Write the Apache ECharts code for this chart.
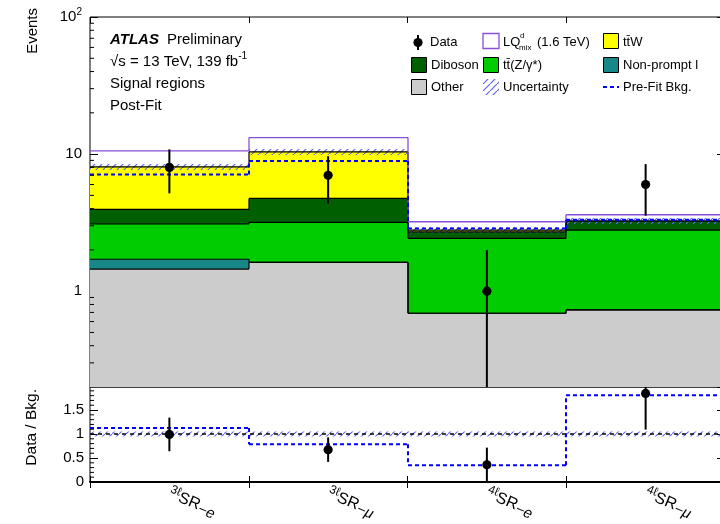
<!DOCTYPE html>
<html><head><meta charset="utf-8">
<script src="https://cdn.jsdelivr.net/npm/echarts@6/dist/echarts.min.js"></script>
<style>html,body{margin:0;padding:0;background:#fff}#c{width:720px;height:524px}</style>
</head><body><div id="c"></div>
<script>
// ---------------- data ----------------
const categories = ['3ℓSR−e', '3ℓSR−μ', '4ℓSR−e', '4ℓSR−μ'];
const labelSup = ['3ℓ', '3ℓ', '4ℓ', '4ℓ'];
const labelSub = ['−e', '−μ', '−e', '−μ'];
const other     = [1.45, 1.62, 0.69, 0.73];
const nonPrompt = [0.26, 0.00, 0.00, 0.00];
const ttZ       = [1.38, 1.56, 1.74, 2.06];
const diboson   = [0.86, 1.57, 0.28, 0.46];
const ttW       = [4.12, 5.63, 0.08, 0.00];
const lqSignal  = [2.48, 2.82, 0.42, 0.36];
const preFit    = [7.10, 8.92, 2.87, 3.32];
const dataCounts = [8, 7, 1, 6];
const bkgRelUnc = [0.05, 0.05, 0.05, 0.05];
const logTickLabels = {1: '1', 10: '10', 100: '10{sup|2}'};
const ratioTicks = [0, 0.5, 1, 1.5];

// ---------------- setup ----------------
const FONT = '"Liberation Sans", Arial, Helvetica, sans-serif';
const yMin = 0.2, yMax = 100, rMin = 0, rMax = 1.98;
const comps = [
  {vals: other, color: '#cccccc'},
  {vals: nonPrompt, color: '#178787'},
  {vals: ttZ, color: '#00cc00'},
  {vals: diboson, color: '#005f00'},
  {vals: ttW, color: '#ffff00'}
];
const nB = categories.length;
let cum = new Array(nB).fill(0);
const compRows = comps.map((c) => {
  const lo = cum.slice();
  cum = cum.map((v, i) => v + c.vals[i]);
  const hi = cum.slice();
  return hi.map((h, i) => [i, Math.max(lo[i], yMin), h, i > 0 ? hi[i - 1] : h]);
});
const totBkg = cum.slice();
const lqTop = totBkg.map((v, i) => v + lqSignal[i]);

// hatch pattern
const pc = document.createElement('canvas');
pc.width = 7; pc.height = 7;
const pctx = pc.getContext('2d');
pctx.strokeStyle = '#6464f0'; pctx.lineWidth = 1.2;
pctx.beginPath(); pctx.moveTo(-1, 8); pctx.lineTo(8, -1); pctx.stroke();
const hatch = {image: pc, repeat: 'repeat'};

function stepSeries(rows, xi, yi, o) {
  return {
    type: 'custom', xAxisIndex: xi, yAxisIndex: yi, clip: true,
    encode: {x: 0, y: 1}, data: rows, animation: false, silent: true,
    renderItem(params, api) {
      const i = api.value(0), lo = api.value(1), hi = api.value(2), prev = api.value(3);
      const bw = api.size([1, 0])[0];
      const pH = api.coord([i, hi]), pL = api.coord([i, lo]);
      const x0 = Math.round(pH[0] - bw / 2), x1 = Math.round(pH[0] + bw / 2);
      const ch = [];
      if (o.fill) ch.push({type: 'rect', z2: o.fz || 0,
        shape: {x: x0, y: pH[1], width: x1 - x0, height: pL[1] - pH[1]}, style: {fill: o.fill}});
      if (o.stroke) {
        const st = {stroke: o.stroke, lineWidth: o.lw || 1, lineDash: o.dash || null};
        ch.push({type: 'line', z2: o.z2 || 10, shape: {x1: x0, y1: pH[1], x2: x1, y2: pH[1]}, style: st});
        if (i > 0) {
          const pp = api.coord([i, prev]);
          ch.push({type: 'line', z2: o.z2 || 10, shape: {x1: x0, y1: pp[1], x2: x0, y2: pH[1]}, style: st});
        }
      }
      return {type: 'group', children: ch};
    }
  };
}

function pointSeries(rows, xi, yi, lim) {
  return {
    type: 'custom', xAxisIndex: xi, yAxisIndex: yi, clip: true,
    encode: {x: 0, y: 1}, data: rows, animation: false, silent: true,
    renderItem(params, api) {
      const i = api.value(0), v = api.value(1);
      const lo = Math.max(api.value(2), lim[0]), hi = Math.min(api.value(3), lim[1]);
      const p = api.coord([i, v]), pl = api.coord([i, lo]), ph = api.coord([i, hi]);
      return {type: 'group', children: [
        {type: 'line', z2: 30, shape: {x1: p[0], y1: pl[1], x2: p[0], y2: ph[1]}, style: {stroke: '#000', lineWidth: 2}},
        {type: 'circle', z2: 31, shape: {cx: p[0], cy: p[1], r: 4.6}, style: {fill: '#000'}}
      ]};
    }
  };
}

function minorTickSeries(vals, xi, yi, len) {
  return {
    type: 'custom', xAxisIndex: xi, yAxisIndex: yi, clip: false,
    encode: {x: 0, y: 1}, data: vals.map(v => [0, v]), animation: false, silent: true,
    renderItem(params, api) {
      const cs = params.coordSys;
      const y = api.coord([0, api.value(1)])[1];
      const st = {stroke: '#000', lineWidth: 1};
      return {type: 'group', children: [
        {type: 'line', z2: 40, shape: {x1: cs.x, y1: y, x2: cs.x + len, y2: y}, style: st},
        {type: 'line', z2: 40, shape: {x1: cs.x + cs.width - len, y1: y, x2: cs.x + cs.width, y2: y}, style: st}
      ]};
    }
  };
}

// minor tick values
const logMinor = [];
[0.1, 1, 10].forEach(d => { for (let k = 2; k <= 9; k++) { const v = k * d; if (v > yMin + 1e-9 && v < yMax) logMinor.push(v); } });
const ratioMinor = [];
for (let k = 1; k < 20; k++) { if (k % 5 !== 0) ratioMinor.push(k / 10); }

const series = [];
comps.forEach((c, k) => series.push(stepSeries(compRows[k], 0, 0, {fill: c.color, stroke: '#000', lw: 1.2, z2: 10})));
// uncertainty band
series.push(stepSeries(totBkg.map((t, i) => [i, t * (1 - bkgRelUnc[i]), t * (1 + bkgRelUnc[i]), t]), 0, 0, {fill: hatch, fz: 5}));
// LQ signal outline
series.push(stepSeries(lqTop.map((v, i) => [i, totBkg[i], v, i > 0 ? lqTop[i - 1] : v]), 0, 0, {stroke: '#8a4fd8', lw: 1.3, z2: 12}));
// pre-fit
series.push(stepSeries(preFit.map((v, i) => [i, v, v, i > 0 ? preFit[i - 1] : v]), 0, 0, {stroke: '#0000ff', lw: 2, dash: [4, 3], z2: 14}));
// data
series.push(pointSeries(dataCounts.map((d, i) => [i, d, d - Math.sqrt(d), d + Math.sqrt(d)]), 0, 0, [yMin, yMax]));
series.push(minorTickSeries(logMinor, 0, 0, 4));

// ratio panel
const ratioData = dataCounts.map((d, i) => d / totBkg[i]);
const ratioErr = dataCounts.map((d, i) => Math.sqrt(d) / totBkg[i]);
const ratioPre = dataCounts.map((d, i) => d / preFit[i]);
series.push(stepSeries(bkgRelUnc.map((u, i) => [i, 1 - u, 1 + u, 1]), 2, 2, {fill: hatch, fz: 5}));
series.push({
  type: 'custom', xAxisIndex: 2, yAxisIndex: 2, data: [[0, 1]], encode: {x: 0, y: 1}, animation: false, silent: true,
  renderItem(params, api) {
    const cs = params.coordSys; const y = api.coord([0, api.value(1)])[1];
    return {type: 'line', z2: 8, shape: {x1: cs.x, y1: y, x2: cs.x + cs.width, y2: y}, style: {stroke: '#000', lineWidth: 1.5, lineDash: [4, 4]}};
  }
});
series.push(stepSeries(ratioPre.map((v, i) => [i, v, v, i > 0 ? ratioPre[i - 1] : v]), 2, 2, {stroke: '#0000ff', lw: 2, dash: [4, 3], z2: 14}));
series.push(pointSeries(ratioData.map((r, i) => [i, r, r - ratioErr[i], r + ratioErr[i]]), 2, 2, [rMin, rMax]));
series.push(minorTickSeries(ratioMinor, 2, 2, 4));

const tickIn = (len) => ({show: true, inside: true, length: len, lineStyle: {color: '#000', width: 1}});
const txt = {fontFamily: FONT, color: '#000'};
const xBase = {type: 'category', data: categories, boundaryGap: true,
  axisLine: {show: false}, splitLine: {show: false}, axisLabel: {show: false}, axisTick: Object.assign(tickIn(6), {interval: 0})};

const option = {
  animation: false,
  backgroundColor: '#fff',
  grid: [
    {left: 90, top: 17, width: 635, height: 370, show: true, borderColor: '#000', borderWidth: 1, backgroundColor: 'transparent', containLabel: false, outerBoundsMode: 'none'},
    {left: 90, top: 387, width: 635, height: 95, show: true, borderColor: '#000', borderWidth: 1, backgroundColor: 'transparent', containLabel: false, outerBoundsMode: 'none'}
  ],
  xAxis: [
    Object.assign({}, xBase, {gridIndex: 0, position: 'bottom'}),
    Object.assign({}, xBase, {gridIndex: 0, position: 'top'}),
    Object.assign({}, xBase, {gridIndex: 1, position: 'bottom',
      axisLine: {show: true, lineStyle: {color: '#000', width: 2}},
      axisLabel: {show: true, interval: 0, rotate: -23, margin: 11,
        formatter: (v, idx) => `{sup|${labelSup[idx]}}{main|SR}{sub|${labelSub[idx]}}`,
        rich: {
          sup: {fontFamily: FONT, fontSize: 12, color: '#000', verticalAlign: 'top', lineHeight: 21},
          main: {fontFamily: FONT, fontSize: 16, color: '#000', lineHeight: 21},
          sub: {fontFamily: FONT, fontSize: 15, fontStyle: 'italic', color: '#000', verticalAlign: 'bottom', lineHeight: 21}
        }}}),
    Object.assign({}, xBase, {gridIndex: 1, position: 'top'})
  ],
  yAxis: [
    {gridIndex: 0, type: 'log', logBase: 10, min: yMin, max: yMax, position: 'left',
      axisLine: {show: false}, splitLine: {show: false}, axisTick: tickIn(8),
      axisLabel: Object.assign({}, txt, {fontSize: 15, margin: 8, showMaxLabel: true, showMinLabel: false,
        formatter: (v) => { const r = Math.round(v); return (Math.abs(v - r) < 1e-6 && logTickLabels[r]) ? logTickLabels[r] : ''; },
        rich: {sup: {fontFamily: FONT, fontSize: 10, color: '#000', verticalAlign: 'top', lineHeight: 20, padding: [0, 0, 6, 0]}}})},
    {gridIndex: 0, type: 'log', logBase: 10, min: yMin, max: yMax, position: 'right',
      axisLine: {show: false}, splitLine: {show: false}, axisTick: tickIn(8), axisLabel: {show: false}},
    {gridIndex: 1, type: 'value', min: rMin, max: rMax, interval: 0.5, position: 'left',
      axisLine: {show: false}, splitLine: {show: false}, axisTick: tickIn(8),
      axisLabel: Object.assign({}, txt, {fontSize: 15, margin: 6, showMaxLabel: false,
        formatter: (v) => ratioTicks.some(t => Math.abs(t - v) < 1e-6) ? String(v) : ''})},
    {gridIndex: 1, type: 'value', min: rMin, max: rMax, interval: 0.5, position: 'right',
      axisLine: {show: false}, splitLine: {show: false}, axisTick: tickIn(8), axisLabel: {show: false}}
  ],
  series: series,
  graphic: [
    {type: 'text', x: 33, y: 8, rotation: Math.PI / 2, style: {text: 'Events', fontFamily: FONT, fontSize: 15, fill: '#000', textAlign: 'right', textVerticalAlign: 'middle'}},
    {type: 'text', x: 32, y: 389, rotation: Math.PI / 2, style: {text: 'Data / Bkg.', fontFamily: FONT, fontSize: 15.5, fill: '#000', textAlign: 'right', textVerticalAlign: 'middle'}},
    {type: 'text', x: 110, y: 40, style: {text: 'ATLAS', fontFamily: FONT, fontSize: 15, fontWeight: 'bold', fontStyle: 'italic', fill: '#000', textVerticalAlign: 'middle'}},
    {type: 'text', x: 167, y: 40, style: {text: 'Preliminary', fontFamily: FONT, fontSize: 15, fill: '#000', textVerticalAlign: 'middle'}},
    {type: 'text', x: 110, y: 62, style: {text: '√s = 13 TeV, 139 fb{sup|-1}', fontFamily: FONT, fontSize: 15, fill: '#000', textVerticalAlign: 'middle',
      rich: {sup: {fontFamily: FONT, fontSize: 10, fill: '#000', verticalAlign: 'top', lineHeight: 22}}}},
    {type: 'text', x: 110, y: 84, style: {text: 'Signal regions', fontFamily: FONT, fontSize: 15, fill: '#000', textVerticalAlign: 'middle'}},
    {type: 'text', x: 110, y: 106, style: {text: 'Post-Fit', fontFamily: FONT, fontSize: 15, fill: '#000', textVerticalAlign: 'middle'}},
    // legend
    {type: 'line', shape: {x1: 418, y1: 35, x2: 418, y2: 50}, style: {stroke: '#000', lineWidth: 2}},
    {type: 'circle', shape: {cx: 418, cy: 42.5, r: 4.6}, style: {fill: '#000'}},
    {type: 'text', x: 430, y: 42, style: {text: 'Data', fontFamily: FONT, fontSize: 13, fill: '#000', textVerticalAlign: 'middle'}},
    {type: 'rect', shape: {x: 483, y: 33.5, width: 16, height: 15}, style: {fill: '#fff', stroke: '#8a4fd8', lineWidth: 1.3}},
    {type: 'text', x: 503, y: 42, style: {text: 'LQ', fontFamily: FONT, fontSize: 13, fill: '#000', textVerticalAlign: 'middle'}},
    {type: 'text', x: 520, y: 36, style: {text: 'd', fontFamily: FONT, fontSize: 8, fill: '#000', textVerticalAlign: 'middle'}},
    {type: 'text', x: 519, y: 48, style: {text: 'mix', fontFamily: FONT, fontSize: 8, fill: '#000', textVerticalAlign: 'middle'}},
    {type: 'text', x: 537, y: 42, style: {text: '(1.6 TeV)', fontFamily: FONT, fontSize: 13, fill: '#000', textVerticalAlign: 'middle'}},
    {type: 'rect', shape: {x: 603.5, y: 33.5, width: 15, height: 15}, style: {fill: '#ffff00', stroke: '#000', lineWidth: 1}},
    {type: 'text', x: 623, y: 42, style: {text: 'tt̄W', fontFamily: FONT, fontSize: 13, fill: '#000', textVerticalAlign: 'middle'}},
    {type: 'rect', shape: {x: 411.5, y: 57.5, width: 15, height: 15}, style: {fill: '#005f00', stroke: '#000', lineWidth: 1}},
    {type: 'text', x: 431, y: 65, style: {text: 'Diboson', fontFamily: FONT, fontSize: 13, fill: '#000', textVerticalAlign: 'middle'}},
    {type: 'rect', shape: {x: 483.5, y: 57.5, width: 15, height: 15}, style: {fill: '#00cc00', stroke: '#000', lineWidth: 1}},
    {type: 'text', x: 503, y: 65, style: {text: 'tt̄(Z/γ*)', fontFamily: FONT, fontSize: 13, fill: '#000', textVerticalAlign: 'middle'}},
    {type: 'rect', shape: {x: 603.5, y: 57.5, width: 15, height: 15}, style: {fill: '#178787', stroke: '#000', lineWidth: 1}},
    {type: 'text', x: 623, y: 65, style: {text: 'Non-prompt l', fontFamily: FONT, fontSize: 13, fill: '#000', textVerticalAlign: 'middle'}},
    {type: 'rect', shape: {x: 411.5, y: 79.5, width: 15, height: 15}, style: {fill: '#cccccc', stroke: '#000', lineWidth: 1}},
    {type: 'text', x: 431, y: 87, style: {text: 'Other', fontFamily: FONT, fontSize: 13, fill: '#000', textVerticalAlign: 'middle'}},
    {type: 'rect', shape: {x: 483, y: 79, width: 16, height: 16}, style: {fill: hatch}},
    {type: 'text', x: 503, y: 87, style: {text: 'Uncertainty', fontFamily: FONT, fontSize: 13, fill: '#000', textVerticalAlign: 'middle'}},
    {type: 'line', shape: {x1: 603, y1: 87, x2: 619, y2: 87}, style: {stroke: '#0000ff', lineWidth: 2, lineDash: [4, 3]}},
    {type: 'text', x: 623, y: 87, style: {text: 'Pre-Fit Bkg.', fontFamily: FONT, fontSize: 13, fill: '#000', textVerticalAlign: 'middle'}}
  ]
};
const chart = echarts.init(document.getElementById('c'), null, {renderer: 'canvas'});
chart.setOption(option);
</script></body></html>
